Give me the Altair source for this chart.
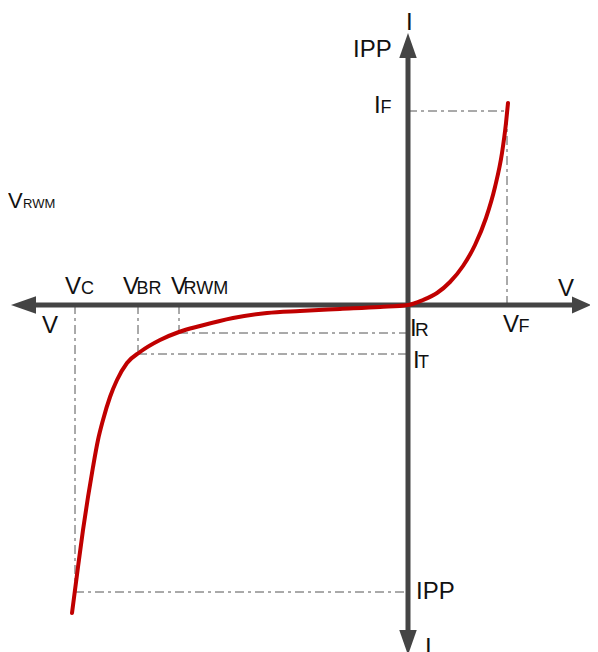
import altair as alt
import pandas as pd

# ---- characteristic values (units: origin at axes crossing) ----
V_F = 99
I_F = 194
V_C = -333
I_PP = -287
V_BR = -270
I_T = -49
V_RWM = -229
I_R = -28

# axis extents
X_MIN, X_MAX = -372, 164
Y_MIN, Y_MAX = -325, 247

# I-V curve
curve_v = [-336, -330, -325, -320, -315, -310, -305, -298, -291, -281, -268,
           -248, -229, -208, -175, -141, -108, -68, -28, 0,
           15, 29, 42, 55, 67, 78, 87, 94, 98, 100]
curve_i = [-308, -262, -225, -192, -162, -135, -115, -92, -75, -58, -47,
           -35, -27, -21, -13, -8, -6, -4, -2, 0,
           5, 12, 23, 39, 60, 87, 118, 152, 182, 202]

# labels: text, x, y, font size
lab_text = ["I", "IPP", "I", "F", "V", "V", "C", "V", "BR", "V", "RWM",
            "V", "V", "F", "I", "R", "I", "T", "IPP", "I", "V", "RWM"]
lab_x = [-2, -55, -34, -27.5, -366, -343, -327, -285, -271.5, -237, -224.5,
         150, 95, 110.5, 2, 7, 5, 10, 8, 17, -400, -385]
lab_y = [275, 248, 192, 192, -28, 11, 11, 11, 11, 11, 11,
         9, -27, -27, -31, -31, -63, -63, -294, -350, 97, 97]
lab_size = [24, 24, 24, 18, 24, 24, 18, 24, 18, 24, 18,
            24, 24, 18, 24, 19, 24, 18, 24, 24, 22, 13]

xs = alt.Scale(domain=[-400, 182], nice=False, zero=False)
ys = alt.Scale(domain=[-347, 297], nice=False, zero=False)

guides = pd.DataFrame({
    "x": [0, V_F, V_RWM, V_RWM, V_BR, V_BR, V_C, V_C],
    "x2": [V_F, V_F, 0, V_RWM, 0, V_BR, 0, V_C],
    "y": [I_F, 0, I_R, 0, I_T, 0, I_PP, 0],
    "y2": [I_F, I_F, I_R, I_R, I_T, I_T, I_PP, I_PP],
})
axes = pd.DataFrame({
    "x": [X_MIN, 0],
    "x2": [X_MAX, 0],
    "y": [0, Y_MIN],
    "y2": [0, Y_MAX],
})
curve = pd.DataFrame({"v": curve_v, "i": curve_i, "o": range(len(curve_v))})
labels = pd.DataFrame({"t": lab_text, "x": lab_x, "y": lab_y, "s": lab_size})

arrow_len = 25
short_len = 19
arrows = pd.DataFrame({
    "x": [X_MIN - arrow_len / 2, X_MAX + short_len / 2, 0, 0],
    "y": [0, 0, Y_MAX + arrow_len / 2, Y_MIN - arrow_len / 2],
    "sz": [arrow_len ** 2, short_len ** 2, arrow_len ** 2, arrow_len ** 2],
    "shape": ["M-1,0L1,-0.7L1,0.7Z", "M1,0L-1,-0.9L-1,0.9Z",
              "M0,-1L0.7,1L-0.7,1Z", "M0,1L0.7,-1L-0.7,-1Z"],
})

guide_layer = alt.Chart(guides).mark_rule(
    color="#555555", strokeWidth=1, strokeDash=[9, 4, 3, 4]
).encode(
    x=alt.X("x:Q", scale=xs, axis=None), x2="x2:Q",
    y=alt.Y("y:Q", scale=ys, axis=None), y2="y2:Q",
)

axis_layer = alt.Chart(axes).mark_rule(color="#444444", strokeWidth=5).encode(
    x=alt.X("x:Q", scale=xs, axis=None), x2="x2:Q",
    y=alt.Y("y:Q", scale=ys, axis=None), y2="y2:Q",
)

arrow_layer = alt.Chart(arrows).mark_point(
    filled=True, color="#444444", opacity=1, strokeWidth=0
).encode(
    x=alt.X("x:Q", scale=xs, axis=None),
    y=alt.Y("y:Q", scale=ys, axis=None),
    shape=alt.Shape("shape:N", scale=None),
    size=alt.Size("sz:Q", scale=None),
)

curve_layer = alt.Chart(curve).mark_line(
    color="#c00000", strokeWidth=4, interpolate="monotone", strokeCap="round"
).encode(
    x=alt.X("v:Q", scale=xs, axis=None),
    y=alt.Y("i:Q", scale=ys, axis=None),
    order="o:Q",
)

text_layer = alt.Chart(labels).mark_text(
    align="left", baseline="alphabetic", font="Liberation Sans", color="#111111"
).encode(
    x=alt.X("x:Q", scale=xs, axis=None),
    y=alt.Y("y:Q", scale=ys, axis=None),
    text="t:N",
    size=alt.Size("s:Q", scale=None),
)

chart = alt.layer(
    guide_layer, axis_layer, curve_layer, arrow_layer, text_layer
).properties(
    width=582, height=644, padding=0,
    autosize=alt.AutoSizeParams(type="none"),
).configure_view(strokeWidth=0)

chart.save("out.html", embed_options={"renderer": "svg", "actions": False})
